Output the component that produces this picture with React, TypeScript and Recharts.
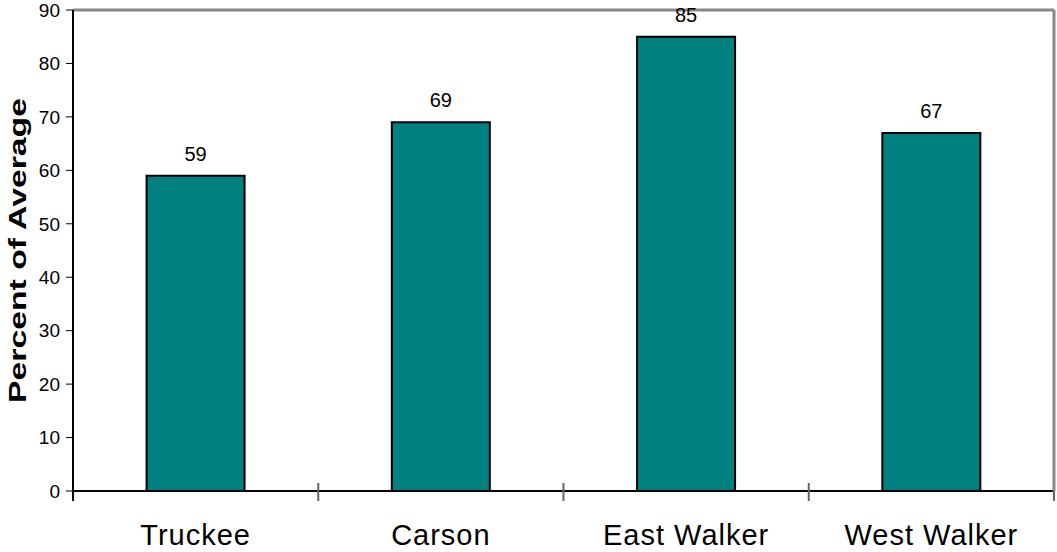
import React from 'react';
import { BarChart, Bar, XAxis, YAxis, CartesianGrid, LabelList } from 'recharts';

const basins = ['Truckee', 'Carson', 'East Walker', 'West Walker'];
const percentOfAverage = [59, 69, 85, 67];
const yTicks = [0, 10, 20, 30, 40, 50, 60, 70, 80, 90];

const chartData = basins.map((name, i) => ({ name, value: percentOfAverage[i] }));

const FONT = '"Liberation Sans", Arial, sans-serif';
const NAME_MARGIN = 33;

const valueTickStyle = { fontFamily: FONT, fontSize: 19, fill: '#000' };
const labelStyle = { fontFamily: FONT, fontSize: 20, fill: '#000' };
const baseLine = { stroke: '#000', strokeWidth: 2 };
const frameLine = { stroke: '#888', strokeWidth: 3 };

// basin name plus the small tick marks that sit on the band edges
const NameTick: React.FC<any> = ({ x, y, payload, index, visibleTicksCount }) => {
    const axisY = y - NAME_MARGIN;
    const half = payload?.offset ?? 0;
    const left = x - half;
    const right = x + half;
    const isLast = index === visibleTicksCount - 1;
    return (
        <g>
            <line
                x1={left}
                x2={left}
                y1={index === 0 ? axisY : axisY - 8}
                y2={axisY + 10}
                stroke={index === 0 ? '#000' : '#666'}
                strokeWidth={2}
            />
            {isLast && <line x1={right} x2={right} y1={axisY} y2={axisY + 10} stroke="#666" strokeWidth={2} />}
            <text
                x={x}
                y={y}
                dy="0.71em"
                textAnchor="middle"
                fontFamily={FONT}
                fontSize={29}
                letterSpacing={1}
                fill="#000"
            >
                {payload.value}
            </text>
        </g>
    );
};

// rotated, bold axis title on the left
const YTitle: React.FC<any> = ({ viewBox }) => {
    const cx = 17;
    const cy = viewBox.y + viewBox.height / 2;
    return (
        <text
            x={cx}
            y={cy}
            transform={`rotate(-90, ${cx}, ${cy})`}
            textAnchor="middle"
            dominantBaseline="central"
            fontFamily={FONT}
            fontWeight="bold"
            fontSize={24}
            textLength={305}
            lengthAdjust="spacingAndGlyphs"
            fill="#000"
        >
            Percent of Average
        </text>
    );
};

const App: React.FC = () => {
    return (
        <div style={{ position: 'absolute', left: 0, top: 0, width: 1057, height: 552, background: '#fff' }}>
            <BarChart
                width={1057}
                height={552}
                data={chartData}
                margin={{ top: 9, right: 2, left: 0, bottom: 0 }}
                barCategoryGap="30%"
            >
                <CartesianGrid vertical={false} stroke="#000" strokeWidth={1} />
                <XAxis
                    xAxisId={0}
                    dataKey="name"
                    tickLine={false}
                    tickSize={0}
                    tickMargin={NAME_MARGIN}
                    axisLine={baseLine}
                    height={61}
                    tick={<NameTick />}
                    interval={0}
                />
                <XAxis
                    xAxisId={1}
                    orientation="top"
                    dataKey="name"
                    tick={false}
                    tickLine={false}
                    height={1}
                    axisLine={frameLine}
                />
                <YAxis
                    yAxisId="left"
                    domain={[0, 90]}
                    ticks={yTicks}
                    width={73}
                    tickSize={7}
                    tickMargin={6}
                    axisLine={baseLine}
                    tickLine={{ stroke: '#000' }}
                    tick={valueTickStyle}
                    interval={0}
                    label={<YTitle />}
                />
                <YAxis
                    yAxisId="right"
                    orientation="right"
                    domain={[0, 90]}
                    width={1}
                    tick={false}
                    tickLine={false}
                    axisLine={frameLine}
                />
                <Bar
                    xAxisId={0}
                    yAxisId="left"
                    dataKey="value"
                    fill="#008080"
                    stroke="#000"
                    strokeWidth={2}
                    isAnimationActive={false}
                >
                    <LabelList dataKey="value" position="top" offset={15} style={labelStyle} />
                </Bar>
            </BarChart>
        </div>
    );
};

export default App;
